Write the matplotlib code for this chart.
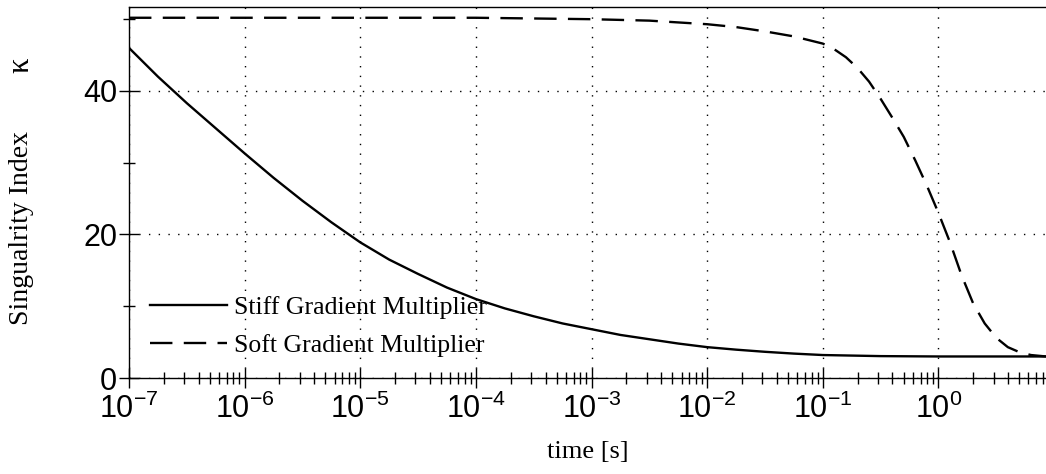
import numpy as np
import matplotlib
matplotlib.use("Agg")
import matplotlib.pyplot as plt
from matplotlib.ticker import FixedLocator, LogLocator, NullFormatter, FuncFormatter

plt.rcParams['font.family'] = ['Liberation Sans', 'DejaVu Sans']
plt.rcParams['mathtext.fontset'] = 'custom'
plt.rcParams['mathtext.rm'] = 'Liberation Sans'
plt.rcParams['mathtext.it'] = 'Liberation Sans'
plt.rcParams['mathtext.default'] = 'regular'

# log10(time) and singularity index
stiff_logt = [-7.0, -6.75, -6.5, -6.25, -6.0, -5.75, -5.5, -5.25, -5.0, -4.75,
              -4.5, -4.25, -4.0, -3.75, -3.5, -3.25, -3.0, -2.75, -2.5, -2.25,
              -2.0, -1.75, -1.5, -1.25, -1.0, -0.5, 0.0, 0.93]
stiff_k = [46.0, 42.0, 38.3, 34.8, 31.3, 27.9, 24.7, 21.7, 18.9, 16.5,
           14.5, 12.6, 11.0, 9.7, 8.6, 7.6, 6.8, 6.0, 5.4, 4.8,
           4.3, 3.95, 3.65, 3.4, 3.2, 3.05, 3.0, 3.0]

soft_logt = [-7.0, -4.0, -3.0, -2.5, -2.0, -1.75, -1.5, -1.25, -1.0, -0.9,
             -0.8, -0.7, -0.6, -0.5, -0.4, -0.3, -0.2, -0.1, 0.0, 0.1,
             0.2, 0.3, 0.4, 0.5, 0.6, 0.7, 0.8, 0.93]
soft_k = [50.2, 50.2, 50.0, 49.8, 49.3, 48.9, 48.3, 47.6, 46.6, 45.8,
          44.7, 43.2, 41.3, 38.9, 36.3, 33.6, 30.3, 26.8, 23.0, 18.9,
          14.3, 10.4, 7.6, 5.6, 4.3, 3.6, 3.2, 3.0]

fig = plt.figure(figsize=(10.46, 4.74), dpi=100)
ax = fig.add_axes([129 / 1046, 1 - 378 / 474, 1 - 129 / 1046, (378 - 7) / 474])

ax.plot(10 ** np.array(stiff_logt), stiff_k, color='black', lw=1.7,
        label='Stiff Gradient Multiplier')
ax.plot(10 ** np.array(soft_logt), soft_k, color='black', lw=1.7,
        dashes=(9.5, 4.8), label='Soft Gradient Multiplier')

ax.set_xscale('log')
ax.set_xlim(1e-7, 10 ** 0.93)
ax.set_ylim(0, 51.7)

ax.xaxis.set_major_locator(LogLocator(base=10, numticks=20))
ax.xaxis.set_minor_locator(LogLocator(base=10, subs=np.arange(2, 10), numticks=20))
ax.xaxis.set_minor_formatter(NullFormatter())
ax.xaxis.set_major_formatter(FuncFormatter(lambda v, p: '$10^{%d}$' % round(np.log10(v))))
ax.yaxis.set_major_locator(FixedLocator([0, 20, 40]))
ax.yaxis.set_minor_locator(FixedLocator([10, 30, 50]))

ax.tick_params(which='major', direction='inout', length=15, width=1, labelsize=22, pad=1)
ax.tick_params(which='minor', direction='inout', length=9, width=1)
ax.tick_params(axis='x', which='major', pad=4)

ax.grid(True, which='major', color='black', linestyle=(0, (1, 6)), lw=1)
ax.spines['right'].set_visible(False)
for s in ['left', 'bottom', 'top']:
    ax.spines[s].set_linewidth(1)

ax.set_xlabel('time [s]', family='Liberation Serif', fontsize=19)
ax.xaxis.set_label_coords(0.5, (378 - 441) / 371)
ax.set_ylabel('Singualrity Index', family='Liberation Serif', fontsize=20)
ax.yaxis.set_label_coords((34 - 129) / 917, (378 - 228) / 371)
ax.text((21 - 129) / 917, (378 - 65) / 371, '\u03ba', transform=ax.transAxes,
        family='Liberation Serif', fontsize=22, rotation=90, ha='center', va='center')

ax.legend(loc='lower left', frameon=False, handlelength=3.0, handletextpad=0.3,
          prop={'family': 'Liberation Serif', 'size': 18.5}, labelspacing=0.6,
          bbox_to_anchor=(0.0, 0.0), borderaxespad=0.4)

fig.savefig('out.png', dpi=100)
